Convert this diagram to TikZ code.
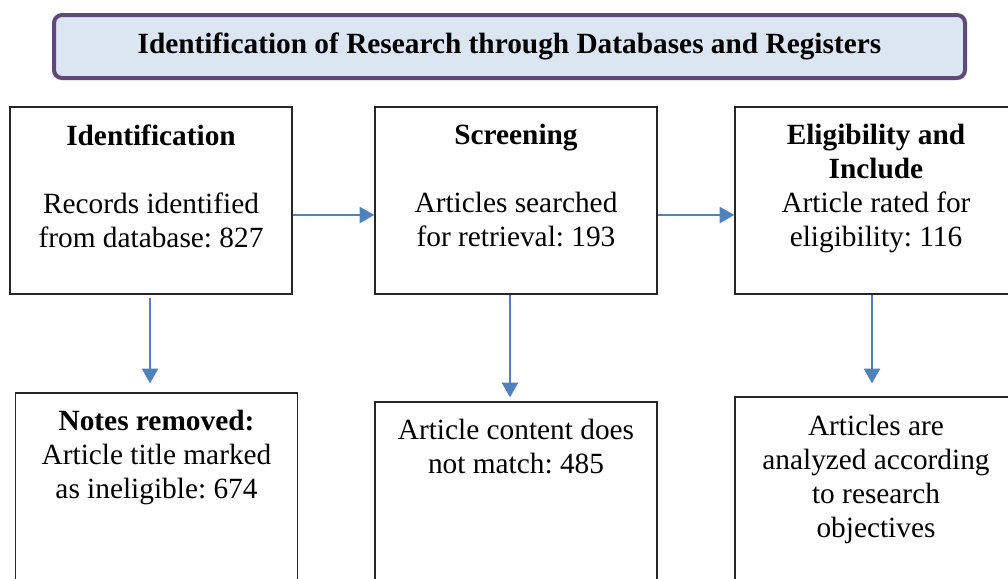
\documentclass[tikz,border=0pt]{standalone}
\usepackage{fontspec}
\setmainfont{Liberation Serif}
\usepackage{xcolor}
\usetikzlibrary{arrows.meta, positioning}
\frenchspacing

\definecolor{headfill}{HTML}{DCE6F2}
\definecolor{headdraw}{HTML}{5F497A}
\definecolor{flowblue}{HTML}{4F81BD}

\begin{document}
\begin{tikzpicture}[
  x=0.75pt, y=-0.75pt,
  headbox/.style={rectangle, draw=headdraw, fill=headfill, line width=3pt, rounded corners=6pt, minimum width=683.25pt, minimum height=47.25pt, font=\fontsize{22}{25.5}\selectfont\bfseries},
  stage/.style={rectangle, draw=black!85, line width=1pt, minimum width=211.5pt, minimum height=140.25pt},
  txt/.style={inner sep=0pt, align=center, font=\fontsize{22}{25.5}\selectfont},
  arrow/.style={-{Triangle[length=11pt, width=12pt]}, line width=1.5pt, draw=flowblue}
]
\clip (0,0) rectangle (1008,579);

% Title
\node[headbox] (head) at (509.5,46.5) {Identification of Research through Databases and Registers};

% Boxes
\node[stage] (ident) at (151,200.5) {};
\node[stage, right=61.25pt of ident] (screen) {};
\node[stage, right=57.5pt of screen] (elig) {};
\node[stage, below=73.25pt of ident, xshift=4.125pt] (removed) {};
\node[stage, below=80pt of screen] (nomatch) {};
\node[stage, below=76.25pt of elig] (analysed) {};

% Texts
\node[txt, below=13.5pt of ident.north] (identtxt) {\textbf{Identification}\\[25.5pt] Records identified\\ from database: 827};
\node[txt, below=13.5pt of screen.north] (screentxt) {\textbf{Screening}\\[25.5pt] Articles searched\\ for retrieval: 193};
\node[txt, below=13.5pt of elig.north] (eligtxt) {\textbf{Eligibility and}\\ \textbf{Include}\\ Article rated for\\ eligibility: 116};
\node[txt, below=13.5pt of removed.north] (removedtxt) {\textbf{Notes removed:}\\ Article title marked\\ as ineligible: 674};
\node[txt, below=13.5pt of nomatch.north] (nomatchtxt) {Article content does\\ not match: 485};
\node[txt, below=14.25pt of analysed.north] (analysedtxt) {Articles are\\ analyzed according\\ to research\\ objectives};

% Arrows
\draw[arrow] ([yshift=-10.875pt]ident.east) -- ([yshift=-10.875pt]screen.west);
\draw[arrow] ([yshift=-10.875pt]screen.east) -- ([yshift=-10.875pt]elig.west);
\draw[arrow, shorten <=2.25pt, shorten >=6.75pt] ([xshift=-0.75pt]ident.south) -- ([xshift=-0.75pt]ident.south |- removed.north);
\draw[arrow, shorten >=3pt] ([xshift=-4.5pt]screen.south) -- ([xshift=-4.5pt]screen.south |- nomatch.north);
\draw[arrow, shorten >=9.75pt] ([xshift=-3pt]elig.south) -- ([xshift=-3pt]elig.south |- analysed.north);

\end{tikzpicture}
\end{document}
